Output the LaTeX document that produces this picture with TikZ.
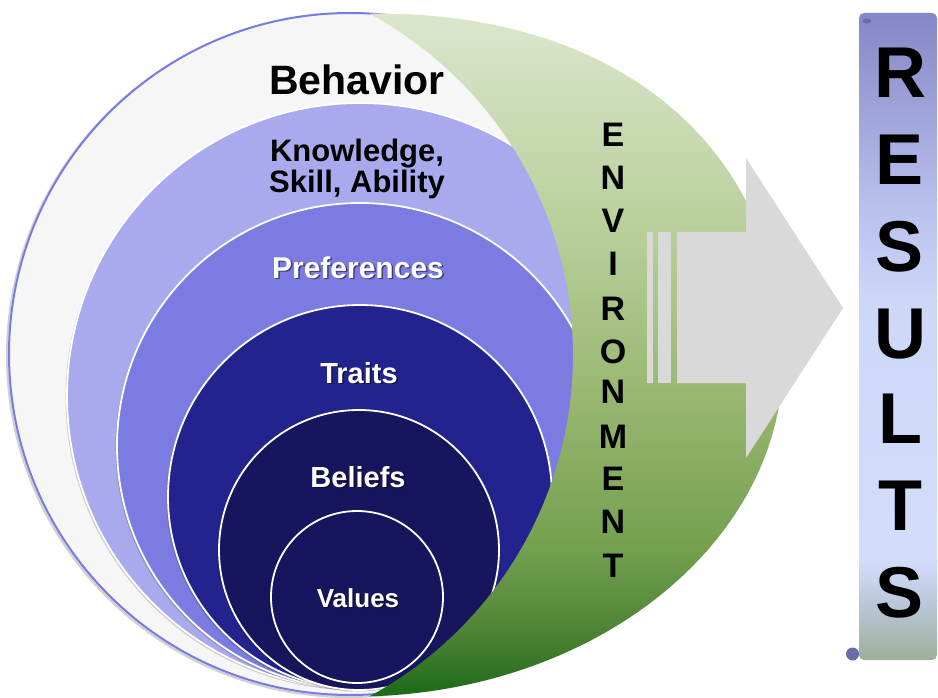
\documentclass[tikz,border=0pt]{standalone}
\usepackage{fontspec}
\setmainfont{Liberation Sans}
\definecolor{outerfill}{HTML}{F6F6F6}
\definecolor{outeredge}{HTML}{7A7AE6}
\definecolor{lav}{HTML}{A9A9EE}
\definecolor{med}{HTML}{7B7BE2}
\definecolor{dblue}{HTML}{23238D}
\definecolor{navy}{HTML}{17155E}
\definecolor{ga}{HTML}{DDE8CF}
\definecolor{gb}{HTML}{B8CF9A}
\definecolor{gc}{HTML}{98B670}
\definecolor{gd}{HTML}{72A04E}
\definecolor{ge}{HTML}{4A8032}
\definecolor{gf}{HTML}{176816}
\definecolor{arrowgray}{HTML}{D9D9D9}
\definecolor{ba}{HTML}{8585C5}
\definecolor{bb}{HTML}{B7BFEC}
\definecolor{bc}{HTML}{CDD7F8}
\definecolor{bd}{HTML}{D3DDFB}
\definecolor{be}{HTML}{BCC8DC}
\definecolor{bf}{HTML}{9AAE94}
\definecolor{curl}{HTML}{6B6BA8}
\begin{document}
\begin{tikzpicture}[x=1pt,y=-1pt,
  ring/.style={draw=white, line width=1.8pt},
  cshadow/.style={fill=black, opacity=0.18},
  lbl/.style={font=\bfseries, inner sep=0pt, anchor=base},
  envl/.style={font=\fontsize{34}{34}\selectfont\bfseries, inner sep=0pt, anchor=base, text=black},
  resl/.style={font=\fontsize{72}{72}\selectfont\bfseries, inner sep=0pt, anchor=base}]
\useasboundingbox (0,0) rectangle (938,698);
\fill[white] (0,0) rectangle (938,698);
% outer circle
\fill[black!45, opacity=.4] (348.5,355.5) circle[radius=342.5pt];
\fill[outerfill] (350,354) circle[radius=342pt];
\draw[outeredge, line width=2pt] (350,354) circle[radius=341pt];
% nested circles
\fill[cshadow] (358.5,397.5) circle[radius=293pt];
\draw[ring, fill=lav] (360,396) circle[radius=293pt];
\fill[cshadow] (358.5,447.5) circle[radius=243pt];
\draw[ring, fill=med] (360,446) circle[radius=243pt];
\fill[cshadow] (358.5,498.5) circle[radius=192pt];
\draw[ring, fill=dblue] (360,497) circle[radius=192pt];
\fill[cshadow] (357.5,551.5) circle[radius=140pt];
\draw[ring, fill=navy] (359,550) circle[radius=140pt];
\fill[cshadow] (355.5,598.5) circle[radius=86pt];
\draw[ring, fill=navy] (357,597) circle[radius=86pt];
% labels
\node[lbl, font=\fontsize{41}{41}\selectfont\bfseries] (beh) at (357,95) {Behavior};
\node[lbl, font=\fontsize{31}{31}\selectfont\bfseries] (kno) at (357,162) {Knowledge,};
\node[lbl, font=\fontsize{31}{31}\selectfont\bfseries] (ska) at (357,193) {Skill, Ability};
\node[lbl, font=\fontsize{30}{30}\selectfont\bfseries, opacity=.5] (prefs) at (359.5,279.5) {Preferences};
\node[lbl, font=\fontsize{30}{30}\selectfont\bfseries, text=white] (pref) at (358,278) {Preferences};
\node[lbl, font=\fontsize{29}{29}\selectfont\bfseries, opacity=.5] (traits) at (360.5,384.5) {Traits};
\node[lbl, font=\fontsize{29}{29}\selectfont\bfseries, text=white] (trait) at (359,383) {Traits};
\node[lbl, font=\fontsize{29}{29}\selectfont\bfseries, opacity=.5] (belis) at (359.5,488.5) {Beliefs};
\node[lbl, font=\fontsize{29}{29}\selectfont\bfseries, text=white] (beli) at (358,487) {Beliefs};
\node[lbl, font=\fontsize{26}{26}\selectfont\bfseries, opacity=.5] (vals) at (359.5,608.5) {Values};
\node[lbl, font=\fontsize{26}{26}\selectfont\bfseries, text=white] (val) at (358,607) {Values};
% green crescent
\begin{scope}
\clip (369.5,13.7) .. controls (620,10) and (783,150) .. (783,360)
  .. controls (783,540) and (600,690) .. (369.5,696.3)
  -- plot[domain=-61.6:61.6, samples=90] ({185+388*cos(\x)},{355-388*sin(\x)}) -- cycle;
\shade[top color=ga, bottom color=gb] (300,0) rectangle (800,231);
\shade[top color=gb, bottom color=gc] (300,230) rectangle (800,401);
\shade[top color=gc, bottom color=gd] (300,400) rectangle (800,551);
\shade[top color=gd, bottom color=ge] (300,550) rectangle (800,641);
\shade[top color=ge, bottom color=gf] (300,640) rectangle (800,700);
\end{scope}
% arrow
\fill[arrowgray] (647,232) rectangle (653,383);
\fill[arrowgray] (658,232) rectangle (671,383);
\fill[arrowgray] (677,232) -- (746,232) -- (746,158) -- (843,308) -- (746,458) -- (746,383) -- (677,383) -- cycle;
% ENVIRONMENT
\node[envl] (e1) at (613,147) {E};
\node[envl] (e2) at (613,190) {N};
\node[envl] (e3) at (613,233) {V};
\node[envl] (e4) at (613,275) {I};
\node[envl] (e5) at (613,320) {R};
\node[envl] (e6) at (613,363) {O};
\node[envl] (e7) at (613,403) {N};
\node[envl] (e8) at (613,448) {M};
\node[envl] (e9) at (613,490) {E};
\node[envl] (e10) at (613,533) {N};
\node[envl] (e11) at (613,577) {T};
% banner
\begin{scope}
\clip[rounded corners=5pt] (859,13) rectangle (937,660);
\shade[top color=ba, bottom color=bb] (850,10) rectangle (940,201);
\shade[top color=bb, bottom color=bc] (850,200) rectangle (940,301);
\shade[top color=bc, bottom color=bd] (850,300) rectangle (940,561);
\shade[top color=bd, bottom color=be] (850,560) rectangle (940,601);
\shade[top color=be, bottom color=bf] (850,600) rectangle (940,665);
\end{scope}
\fill[curl] (867,21) ellipse[x radius=4.5pt, y radius=2.5pt];
\fill[curl] (852.5,654) circle[radius=6.5pt];
% RESULTS
\foreach \l/\yy [count=\i] in {R/98, E/185, S/272, U/358, L/443, T/530, S/617} {
  \node[resl, text=black] (r\i) at (900,\yy) {\l};
}
\end{tikzpicture}
\end{document}
